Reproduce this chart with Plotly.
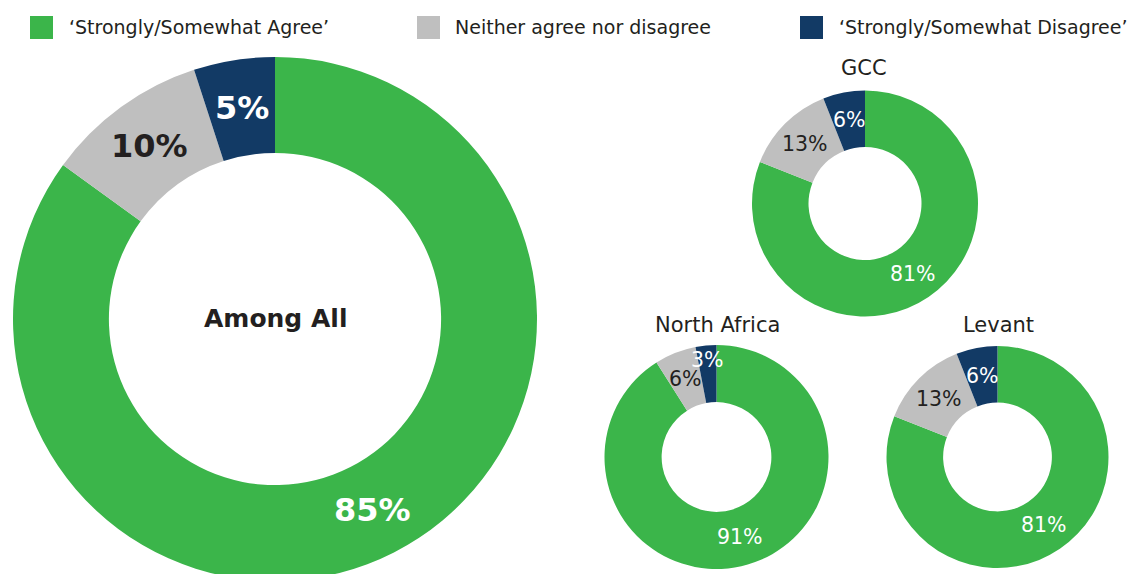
import math
import plotly.graph_objects as go

# figure fills the 1139x574 window, which shows it offset by the 8px page margin
OFF = 8
W, H = 1139 + OFF, 574 + OFF

# ---- data ----
categories = ["‘Strongly/Somewhat Agree’", "Neither agree nor disagree", "‘Strongly/Somewhat Disagree’"]
regions = ["Among All", "GCC", "North Africa", "Levant"]
among_all = [85, 10, 5]
gcc = [81, 13, 6]
north_africa = [91, 6, 3]
levant = [81, 13, 6]

colors = ["#3BB54A", "#BFBFBF", "#123A65"]
text_colors = ["#FFFFFF", "#231F20", "#FFFFFF"]
DARK = "#231F20"
FONT = "DejaVu Sans"


def fx(sx):
    return (sx - OFF) / W


def fy(sy):
    return 1 - (sy - OFF) / H


# layout geometry of each donut (screen px): centre x, centre y, outer radius, hole fraction
pie_specs = [
    (among_all, 275, 319, 262, 0.634, 32, True),
    (gcc, 865, 203.5, 113, 0.50, 20.5, False),
    (north_africa, 716.5, 457, 112, 0.49, 20.5, False),
    (levant, 997.5, 457, 111, 0.49, 20.5, False),
]

fig = go.Figure()
annotations = []

for vals, cx, cy, r, hole, fs, bold in pie_specs:
    dom = dict(x=[fx(cx - r), fx(cx + r)], y=[max(0, fy(cy + r)), min(1, fy(cy - r))])
    fig.add_trace(go.Pie(
        labels=categories, values=vals, sort=False, direction="clockwise", rotation=0,
        hole=hole, domain=dom,
        marker=dict(colors=colors, line=dict(width=0)),
        textinfo="none", showlegend=False, hoverinfo="label+value",
    ))
    # value labels in the middle of each ring segment (thin slices: further out)
    total = sum(vals)
    cum = 0
    for i, v in enumerate(vals):
        theta = math.radians((cum + v / 2) / total * 360)
        cum += v
        rm = r * (1 + hole) / 2 if v / total >= 0.05 else r * 0.87
        lx = cx + rm * math.sin(theta)
        ly = cy - rm * math.cos(theta)
        txt = f"{v}%"
        annotations.append(dict(
            text=f"<b>{txt}</b>" if bold else txt, x=fx(lx), y=fy(ly),
            xref="paper", yref="paper", showarrow=False, xanchor="center", yanchor="middle",
            font=dict(family=FONT, size=fs, color=text_colors[i])))

titles = [
    ("<b>Among All</b>", 275, 318, 25),
    (regions[1], 864, 68, 21),
    (regions[2], 717, 325, 21),
    (regions[3], 998, 325, 21),
]
for t, sx, sy, fs in titles:
    annotations.append(dict(text=t, x=fx(sx), y=fy(sy), xref="paper", yref="paper",
                            showarrow=False, xanchor="center", yanchor="middle",
                            font=dict(family=FONT, size=fs, color=DARK)))

# legend drawn manually
legend_sq_x = [30, 417, 800]
legend_txt_x = [67, 453, 837]
shapes = []
for i, cat in enumerate(categories):
    shapes.append(dict(type="rect", xref="paper", yref="paper",
                       x0=fx(legend_sq_x[i]), x1=fx(legend_sq_x[i] + 23),
                       y0=fy(39), y1=fy(16),
                       fillcolor=colors[i], line=dict(width=0)))
    annotations.append(dict(text=cat, xref="paper", yref="paper", x=fx(legend_txt_x[i]), y=fy(27),
                            xanchor="left", yanchor="middle", showarrow=False,
                            font=dict(family=FONT, size=19, color=DARK)))

fig.update_layout(
    width=W, height=H, margin=dict(l=0, r=0, t=0, b=0),
    paper_bgcolor="white", plot_bgcolor="white",
    annotations=annotations, shapes=shapes,
)

fig.write_html("out.html")
